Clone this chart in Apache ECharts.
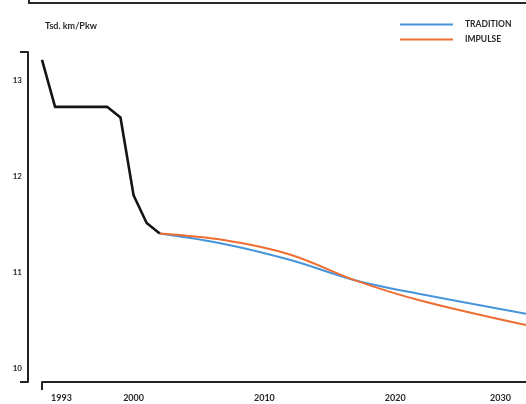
<!DOCTYPE html>
<html>
<head>
<meta charset="utf-8">
<script src="https://cdn.jsdelivr.net/npm/echarts@6/dist/echarts.min.js"></script>
<style>
html,body{margin:0;padding:0;background:#fff;}
#chart{width:526px;height:404px;}
</style>
</head>
<body>
<div id="chart"></div>
<script>
// ---- data ----
var histYears = [1993, 1994, 1995, 1996, 1997, 1998, 1999, 2000, 2001, 2002];
var histValues = [13.21, 12.72, 12.72, 12.72, 12.72, 12.72, 12.61, 11.80, 11.51, 11.40];

var projYears = [2002, 2007, 2012, 2017, 2022, 2030];
var traditionValues = [11.40, 11.29, 11.125, 10.912, 10.769, 10.566];
var impulseValues   = [11.40, 11.33, 11.18, 10.91, 10.70, 10.447];

var xTickLabels = [1993, 2000, 2010, 2020, 2030];
var yTickLabels = [10, 11, 12, 13];
var seriesNames = ['TRADITION', 'IMPULSE'];
var unitLabel = 'Tsd. km/Pkw';

function pairs(xs, ys) { return xs.map(function (x, i) { return [x, ys[i]]; }); }

var FONT = 'Lato';
var TXT = '#2a2a2a';
var BLUE = '#4694da';
var ORANGE = '#ee6e32';

var chart = echarts.init(document.getElementById('chart'));
chart.setOption({
  animation: false,
  backgroundColor: '#ffffff',
  title: {
    text: unitLabel,
    left: 40, top: 17,
    textStyle: { fontFamily: FONT, fontSize: 9, fontWeight: 'bold', color: TXT }
  },
  legend: {
    data: seriesNames,
    orient: 'vertical',
    left: 400, top: 20,
    padding: 0,
    icon: 'rect',
    itemWidth: 53, itemHeight: 2,
    itemGap: 6,
    textStyle: { fontFamily: FONT, fontSize: 8.5, fontWeight: 'bold', color: TXT, padding: [0, 0, 0, 7] }
  },
  graphic: [{
    type: 'polyline',
    shape: { points: [[29, -2], [29, 3], [530, 3]] },
    style: { stroke: '#2a2a2a', lineWidth: 2, fill: null }
  }],
  grid: { left: 42, right: -13, top: 52, bottom: 22, containLabel: false },
  xAxis: {
    type: 'value',
    min: 1993, max: 2030,
    axisLine: { show: true, lineStyle: { color: '#222', width: 2 } },
    axisTick: { show: true, customValues: [1993], length: 8, lineStyle: { color: '#222', width: 2 } },
    splitLine: { show: false },
    axisLabel: {
      customValues: xTickLabels,
      margin: 12,
      fontFamily: FONT, fontSize: 9, fontWeight: 'bold', color: TXT,
      formatter: function (v) {
        if (v === xTickLabels[0]) return '{a|' + v + '}';
        if (v === xTickLabels[xTickLabels.length - 1]) return '{b|' + v + '}';
        return String(v);
      },
      rich: {
        a: { width: 60, align: 'right', fontFamily: FONT, fontSize: 9, fontWeight: 'bold', color: TXT },
        b: { width: 72, align: 'left', fontFamily: FONT, fontSize: 9, fontWeight: 'bold', color: TXT }
      }
    }
  },
  yAxis: {
    type: 'value',
    min: 9.854, max: 13.292,
    offset: 14,
    axisLine: { show: true, lineStyle: { color: '#222', width: 2 } },
    axisTick: { show: true, customValues: [9.854, 13.292], length: 8, lineStyle: { color: '#222', width: 2 } },
    splitLine: { show: false },
    axisLabel: {
      customValues: yTickLabels,
      margin: 6,
      fontFamily: FONT, fontSize: 8, fontWeight: 'bold', color: TXT
    }
  },
  series: [
    {
      name: 'history', type: 'line', data: pairs(histYears, histValues),
      showSymbol: false, symbol: 'none', smooth: false,
      lineStyle: { color: '#151515', width: 2.6, join: 'round' }, itemStyle: { color: '#151515' }, z: 3
    },
    {
      name: seriesNames[0], type: 'line', data: pairs(projYears, traditionValues),
      showSymbol: false, symbol: 'none', smooth: 0.35,
      lineStyle: { color: BLUE, width: 2 }, itemStyle: { color: BLUE }, z: 2
    },
    {
      name: seriesNames[1], type: 'line', data: pairs(projYears, impulseValues),
      showSymbol: false, symbol: 'none', smooth: 0.35,
      lineStyle: { color: ORANGE, width: 2 }, itemStyle: { color: ORANGE }, z: 2
    }
  ]
});
</script>
</body>
</html>
